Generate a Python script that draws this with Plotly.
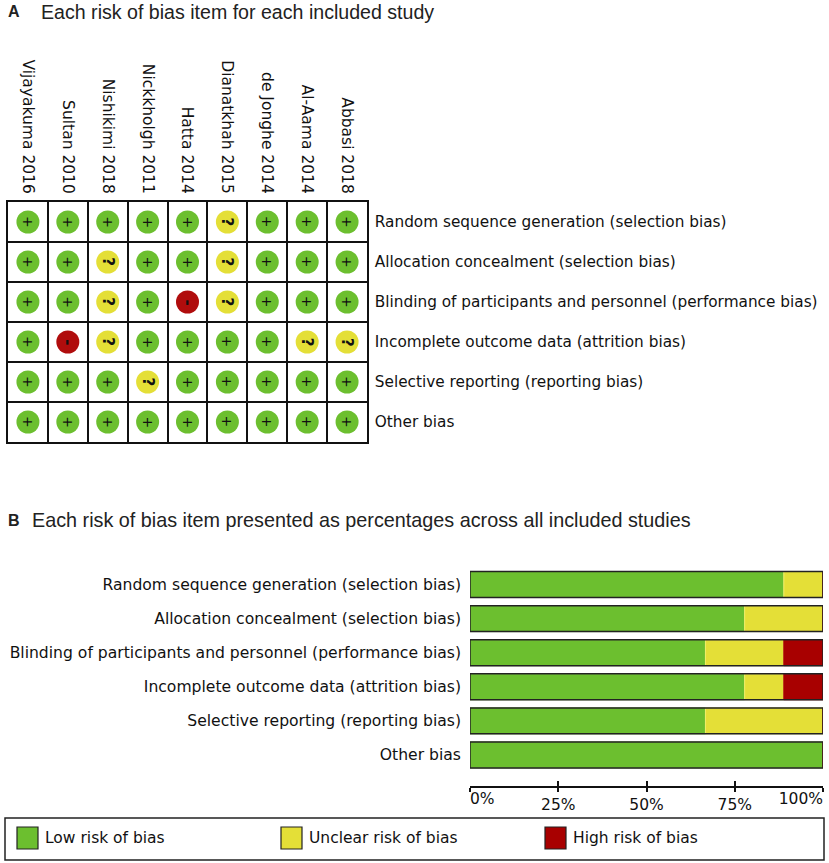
import plotly.graph_objects as go

# Studies (panel A columns) and bias domains (rows of both panels)
studies = ["Vijayakuma 2016", "Sultan 2010", "Nishikimi 2018", "Nickkholgh 2011",
           "Hatta 2014", "Dianatkhah 2015", "de Jonghe 2014", "Al-Aama 2014", "Abbasi 2018"]
domains = ["Random sequence generation (selection bias)",
           "Allocation concealment (selection bias)",
           "Blinding of participants and personnel (performance bias)",
           "Incomplete outcome data (attrition bias)",
           "Selective reporting (reporting bias)",
           "Other bias"]

# Judgements per domain, one entry per study: + low, ? unclear, - high
random_seq = ["+", "+", "+", "+", "+", "?", "+", "+", "+"]
allocation = ["+", "+", "?", "+", "+", "?", "+", "+", "+"]
blinding = ["+", "+", "?", "+", "-", "?", "+", "+", "+"]
incomplete = ["+", "-", "?", "+", "+", "+", "+", "?", "?"]
selective = ["+", "+", "+", "?", "+", "+", "+", "+", "+"]
other = ["+", "+", "+", "+", "+", "+", "+", "+", "+"]
judgements = [random_seq, allocation, blinding, incomplete, selective, other]

# Panel B percentages
pct_low = [88.9, 77.8, 66.7, 77.8, 66.7, 100]
pct_unclear = [11.1, 22.2, 22.2, 11.1, 33.3, 0]
pct_high = [0, 0, 11.1, 11.1, 0, 0]

pct_ticks = [0, 25, 50, 75, 100]
pct_labels = ["0%", "25%", "50%", "75%", "100%"]

GREEN = "#6cbf2f"
YELLOW = "#e4df37"
RED = "#a80000"
RED_DOT = "#b00d0d"
colour_of = {"+": GREEN, "?": YELLOW, "-": RED_DOT}

W, H = 829, 863
TXT = "DejaVu Sans"
TITLE = "Liberation Sans"
FS = 15.3


def px(x):
    return x / W


def py(y):
    return 1 - y / H


fig = go.Figure()

# ---- Panel A: traffic-light grid
xs, ys, cols = [], [], []
for d, row in zip(domains, judgements):
    for s, j in zip(studies, row):
        xs.append(s)
        ys.append(d)
        cols.append(colour_of[j])
fig.add_trace(go.Scatter(
    x=xs, y=ys, mode="markers", xaxis="x", yaxis="y",
    marker=dict(size=23, color=cols, line=dict(width=0)),
    showlegend=False, hoverinfo="skip"))

annotations = []
for d, row in zip(domains, judgements):
    for s, j in zip(studies, row):
        annotations.append(dict(
            x=s, y=d, xref="x", yref="y",
            text=j if j == "+" else "<b>%s</b>" % j, showarrow=False,
            textangle=90, font=dict(family=TXT, size=14 if j == "+" else 15, color="#111")))

# ---- Panel B: stacked percentage bars
base_unclear = pct_low
base_high = [a + b for a, b in zip(pct_low, pct_unclear)]
fig.add_trace(go.Bar(
    y=domains, x=pct_low, base=[0] * len(domains), orientation="h",
    xaxis="x2", yaxis="y2", width=0.76,
    marker=dict(color=GREEN, line=dict(color="#86cf48", width=1)),
    showlegend=False, hoverinfo="skip"))
fig.add_trace(go.Bar(
    y=domains, x=pct_unclear, base=base_unclear, orientation="h",
    xaxis="x2", yaxis="y2", width=0.76,
    marker=dict(color=YELLOW, line=dict(color="#f2ee6a", width=1)),
    showlegend=False, hoverinfo="skip"))
fig.add_trace(go.Bar(
    y=domains, x=pct_high, base=base_high, orientation="h",
    xaxis="x2", yaxis="y2", width=0.76,
    marker=dict(color=RED, line=dict(color=RED, width=1)),
    showlegend=False, hoverinfo="skip"))
# outline around each whole bar
fig.add_trace(go.Bar(
    y=domains, x=[100] * len(domains), base=[0] * len(domains), orientation="h",
    xaxis="x2", yaxis="y2", width=0.76,
    marker=dict(color="rgba(0,0,0,0)", line=dict(color="#222", width=1.5)),
    showlegend=False, hoverinfo="skip"))
# invisible traces so the helper axes (upper tick half, edge labels) get drawn
for ax in ["x3", "x4", "x5"]:
    fig.add_trace(go.Scatter(x=[0, 100], y=[domains[0], domains[0]], xaxis=ax, yaxis="y2",
                             mode="markers", marker=dict(opacity=0), showlegend=False,
                             hoverinfo="skip"))

# ---- Titles
annotations += [
    dict(x=px(6), y=py(12), xref="paper", yref="paper", text="<b>A</b>", showarrow=False,
         xanchor="left", yanchor="middle", font=dict(family=TITLE, size=16, color="#222")),
    dict(x=px(39), y=py(12), xref="paper", yref="paper",
         text="Each risk of bias item for each included study", showarrow=False,
         xanchor="left", yanchor="middle", font=dict(family=TITLE, size=19.6, color="#222")),
    dict(x=px(6), y=py(520), xref="paper", yref="paper", text="<b>B</b>", showarrow=False,
         xanchor="left", yanchor="middle", font=dict(family=TITLE, size=16, color="#222")),
    dict(x=px(30), y=py(520), xref="paper", yref="paper",
         text="Each risk of bias item presented as percentages across all included studies",
         showarrow=False, xanchor="left", yanchor="middle",
         font=dict(family=TITLE, size=19.8, color="#222")),
]

# ---- Legend box (drawn by hand to match the wide framed key)
shapes = [dict(type="rect", xref="paper", yref="paper", x0=px(5), x1=px(824),
               y0=py(860), y1=py(818), line=dict(color="#222", width=1.5),
               fillcolor="white")]
legend_items = [("Low risk of bias", GREEN, 17), ("Unclear risk of bias", YELLOW, 281),
                ("High risk of bias", RED, 545)]
for label, colour, x0 in legend_items:
    shapes.append(dict(type="rect", xref="paper", yref="paper", x0=px(x0), x1=px(x0 + 21),
                       y0=py(849), y1=py(827), line=dict(color="#222", width=1.2),
                       fillcolor=colour))
    annotations.append(dict(x=px(x0 + 26), y=py(838), xref="paper", yref="paper",
                            text=label, showarrow=False, xanchor="left", yanchor="middle",
                            font=dict(family=TXT, size=15.5, color="#111")))

pct_axis = dict(domain=[px(470), px(823)], anchor="free", position=py(787), range=[0, 100],
                showgrid=False, zeroline=False, automargin=False, fixedrange=True,
                tickfont=dict(family=TXT, size=15.5, color="#111"))

fig.update_layout(
    width=W, height=H,
    margin=dict(l=0, r=0, t=0, b=0, autoexpand=False),
    paper_bgcolor="white", plot_bgcolor="white",
    barmode="overlay",
    annotations=annotations, shapes=shapes,
    xaxis=dict(domain=[px(8), px(367)], anchor="y", side="top", type="category",
               categoryorder="array", categoryarray=studies, range=[-0.5, 8.5],
               tickson="boundaries", showgrid=True, gridcolor="#111", gridwidth=1.5,
               showline=True, mirror=True, linecolor="#111", linewidth=1.5,
               ticks="", tickangle=90, ticklabelstandoff=1, automargin=False,
               tickfont=dict(family=TXT, size=15.5, color="#111"), fixedrange=True),
    yaxis=dict(domain=[py(442), py(202)], anchor="x", side="right", type="category",
               categoryorder="array", categoryarray=domains, range=[5.5, -0.5],
               tickson="boundaries", showgrid=True, gridcolor="#111", gridwidth=1.5,
               showline=True, mirror=True, linecolor="#111", linewidth=1.5,
               ticks="", ticklabelstandoff=3, automargin=False,
               tickfont=dict(family=TXT, size=FS, color="#111"), fixedrange=True),
    # main percentage axis: line, lower tick half, middle labels
    xaxis2=dict(pct_axis, tickvals=pct_ticks,
                ticktext=[""] + pct_labels[1:-1] + [""], ticks="outside", ticklen=4,
                tickcolor="#111", tickwidth=1.5, showline=True, linecolor="#111",
                linewidth=1.5),
    # upper tick half
    xaxis3=dict(pct_axis, overlaying="x2", tickvals=pct_ticks, ticks="inside", ticklen=6,
                tickcolor="#111", tickwidth=1.5, showticklabels=False, showline=False),
    # edge labels aligned inward, as in the original
    xaxis4=dict(pct_axis, overlaying="x2", tickvals=pct_ticks[:1], ticktext=pct_labels[:1],
                ticks="", showline=False, ticklabelposition="outside right"),
    xaxis5=dict(pct_axis, overlaying="x2", tickvals=pct_ticks[-1:], ticktext=pct_labels[-1:],
                ticks="", showline=False, ticklabelposition="outside left"),
    yaxis2=dict(domain=[py(772), py(567.5)], anchor="x2", type="category",
                categoryorder="array", categoryarray=domains, range=[5.5, -0.5],
                showgrid=False, showline=False, ticks="", ticklabelstandoff=8,
                automargin=False,
                tickfont=dict(family=TXT, size=15.6, color="#111"), fixedrange=True),
)

# drop the default page margin so the figure sits flush in the window
fig.write_html("out.html", config={"displayModeBar": False},
               post_script="document.body.style.margin='0';")
